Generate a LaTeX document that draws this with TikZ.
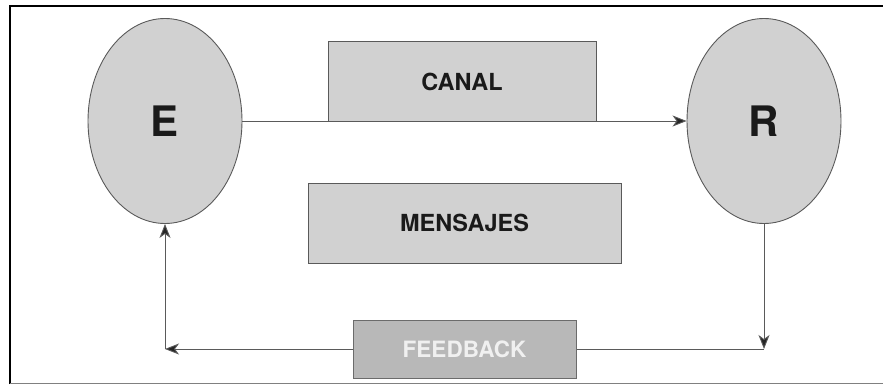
\documentclass[tikz,border=0pt]{standalone}
\usepackage{fontspec}
\setmainfont{TeX Gyre Heros}
\usetikzlibrary{shapes.geometric,arrows.meta}
\definecolor{lgray}{HTML}{D1D1D1}
\definecolor{dgray}{HTML}{B8B8B8}
\definecolor{edge}{HTML}{5A5A5A}
\definecolor{txt}{HTML}{1A1A1A}
\tikzset{
  party/.style={ellipse, draw=edge, line width=0.9pt, fill=lgray, minimum width=154pt, minimum height=205pt, inner sep=0pt, text=txt, font=\fontsize{42}{46}\selectfont\bfseries},
  box/.style={rectangle, draw=edge, line width=1pt, fill=lgray, inner sep=0pt, text=txt, font=\fontsize{23.5}{27}\selectfont\bfseries},
  fbbox/.style={rectangle, draw=edge!90, line width=1pt, fill=dgray, inner sep=0pt, text=white!94!black, font=\fontsize{22.5}{26}\selectfont\bfseries},
  arr/.style={draw=edge, line width=0.9pt, -{Stealth[length=14pt,width=11pt,inset=4pt,fill=black!85]}},
  plain/.style={draw=edge, line width=0.9pt}
}
\begin{document}
\begin{tikzpicture}[x=1pt,y=-1pt]
\useasboundingbox (0,0) rectangle (883,385);
% frame
\draw[black, line width=2pt] (10,384) -- (10,6) -- (883,6);
\draw[gray, line width=0.8pt] (10,383) -- (883,383);
% nodes
\node[party] (E) at (165,121) {E};
\node[party] (R) at (764,121) {R};
\draw[arr] (E.east) -- (R.west);
\node[box, minimum width=268pt, minimum height=80pt, anchor=south] (C) at (462,122) {CANAL};
\node[box, minimum width=313pt, minimum height=80pt] (M) at (464.5,223) {MENSAJES};
\node[fbbox, minimum width=223pt, minimum height=58pt] (F) at (464.5,349) {FEEDBACK};
\coordinate (fr) at (764,349);
\coordinate (fl) at (165,349);
\draw[arr] (R.south) -- (fr);
\draw[plain] (fr) -- (F.east);
\draw[arr] (F.west) -- (fl);
\draw[arr] (fl) -- (E.south);
\end{tikzpicture}
\end{document}
